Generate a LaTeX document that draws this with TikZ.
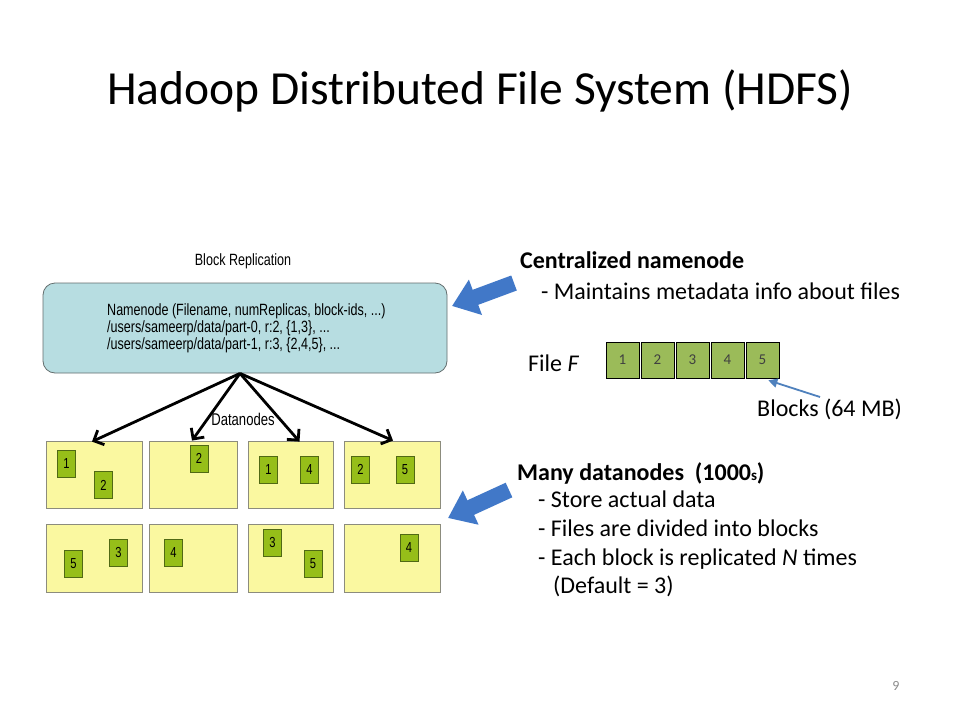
\documentclass[tikz,border=0pt]{standalone}
\usepackage{fontspec}
\setmainfont{Carlito}
\newfontfamily\narrowsans[FakeStretch=0.77]{Liberation Sans}
\usetikzlibrary{arrows.meta,calc}

\definecolor{nnfill}{RGB}{183,221,225}
\definecolor{nnline}{RGB}{100,110,110}
\definecolor{dnfill}{RGB}{250,248,160}
\definecolor{dnline}{RGB}{140,140,125}
\definecolor{blkfill}{RGB}{150,190,25}
\definecolor{blkline}{RGB}{80,105,20}
\definecolor{cellfill}{RGB}{155,187,89}
\definecolor{bigblue}{RGB}{65,120,200}
\definecolor{thinblue}{RGB}{79,129,189}
\definecolor{pagegrey}{RGB}{140,140,140}

\begin{document}
\begin{tikzpicture}[x=1pt,y=-1pt,
  dn/.style={draw=dnline, fill=dnfill, line width=0.8pt, inner sep=0, minimum height=67pt},
  blk/.style={draw=blkline, fill=blkfill, line width=0.8pt, inner sep=0, minimum width=18pt, minimum height=27pt, font=\narrowsans\fontsize{14.5}{14.5}\selectfont},
  cell/.style={draw=black, fill=cellfill, line width=0.6pt, inner sep=0, minimum width=33pt, minimum height=36pt, font=\fontsize{15}{15}\selectfont, text=black!75},
  fanarrow/.style={line width=2.8pt, -{Straight Barb[length=8pt,width=16pt]}},
  bigarrow/.style={draw=bigblue, line width=16pt, -{Triangle[length=25pt,width=36pt]}},
  rtext/.style={anchor=base west, inner sep=0, font=\fontsize{24}{24}\selectfont},
  rbold/.style={anchor=base west, inner sep=0, font=\bfseries\fontsize{24}{24}\selectfont},
  nntext/.style={anchor=base west, inner sep=0, font=\narrowsans\fontsize{16.3}{16.3}\selectfont},
]
\fill[white] (0,0) rectangle (960,720);
\useasboundingbox (0,0) rectangle (960,720);

% title
\node[anchor=base, inner sep=0, font=\fontsize{47.5}{47.5}\selectfont] (title) at (480,104) {Hadoop Distributed File System (HDFS)};

% namenode
\node[nntext, anchor=base] (br) at (243,265) {Block Replication};
\node[draw=nnline, fill=nnfill, rounded corners=12pt, line width=0.8pt, minimum width=404pt, minimum height=90pt, inner sep=0] (nn) at (245,328) {};
\node[nntext] (nnt1) at (107,315) {Namenode (Filename, numReplicas, block-ids, ...)};
\node[nntext] (nnt2) at (107,332) {/users/sameerp/data/part-0, r:2, \{1,3\}, ...};
\node[nntext] (nnt3) at (107,349) {/users/sameerp/data/part-1, r:3, \{2,4,5\}, ...};

% datanodes
\node[dn, minimum width=96pt] (d1) at (94,474.5) {};
\node[dn, minimum width=88pt] (d2) at (193,474.5) {};
\node[dn, minimum width=85pt] (d3) at (290.5,474.5) {};
\node[dn, minimum width=96pt] (d4) at (392,474.5) {};
\node[dn, minimum width=96pt, minimum height=68pt] (d5) at (94,558) {};
\node[dn, minimum width=88pt, minimum height=68pt] (d6) at (193,558) {};
\node[dn, minimum width=85pt, minimum height=68pt] (d7) at (290.5,558) {};
\node[dn, minimum width=96pt, minimum height=68pt] (d8) at (392,558) {};

% blocks
\node[blk] (b11) at (66.5,464) {1};
\node[blk] (b12) at (103.5,485) {2};
\node[blk] (b22) at (199,458.5) {2};
\node[blk] (b31) at (268.5,469.5) {1};
\node[blk] (b34) at (309.5,469.5) {4};
\node[blk] (b42) at (360.5,469.5) {2};
\node[blk] (b45) at (405,469.5) {5};
\node[blk] (b55) at (73.5,563.5) {5};
\node[blk] (b53) at (118.5,552.5) {3};
\node[blk] (b64) at (173.5,552.5) {4};
\node[blk] (b73) at (272.5,542.5) {3};
\node[blk] (b75) at (313,563.5) {5};
\node[blk] (b84) at (409,547.5) {4};

% fan arrows
\coordinate (hub) at ($(nn.south)+(-5,0)$);
\draw[fanarrow] (hub) -- ($(d1.north)+(-2,1)$);
\draw[fanarrow] (hub) -- ($(d2.north)+(-1,0)$);
\draw[fanarrow] (hub) -- ($(d3.north)+(9,1)$);
\draw[fanarrow] (hub) -- ($(d4.north)+(1,0)$);
\node[font=\narrowsans\fontsize{17}{17}\selectfont, inner sep=0] (dl) at (243,419) {Datanodes};

% big blue arrows
\coordinate (a1t) at (514,283);
\coordinate (a1h) at (452,306);
\draw[bigarrow] (a1t) -- (a1h);
\coordinate (a2t) at (509,490);
\coordinate (a2h) at (448,518);
\draw[bigarrow] (a2t) -- (a2h);

% right text
\node[rbold] (cn) at (520,268) {Centralized namenode};
\node[rtext] (cn1) at (541,299) {- Maintains metadata info about files};

\node[rtext] (ff) at (528,371) {File \textit{F}};
\node[cell] (c1) at (622.5,360) {1};
\node[cell] (c2) at (657.5,360) {2};
\node[cell] (c3) at (692.5,360) {3};
\node[cell] (c4) at (727.5,360) {4};
\node[cell] (c5) at (762.5,360) {5};
\coordinate (bt) at (820,397);
\draw[thinblue, line width=1.8pt, -{Triangle[length=9pt,width=9pt]}] (bt) -- ($(c5.south east)+(-11,2)$);
\node[rtext] (bl) at (757,416) {Blocks (64 MB)};

\node[rbold] (md) at (517,480) {Many datanodes~~(1000{\fontsize{15}{15}\selectfont s})};
\node[rtext] (md1) at (538,507) {- Store actual data};
\node[rtext] (md2) at (538,536) {- Files are divided into blocks};
\node[rtext] (md3) at (538,565) {- Each block is replicated \textit{N} times};
\node[rtext] (md4) at (553,593) {(Default = 3)};

\node[anchor=base, inner sep=0, font=\fontsize{14}{14}\selectfont, text=pagegrey] (pg) at (896,690) {9};
\end{tikzpicture}
\end{document}
